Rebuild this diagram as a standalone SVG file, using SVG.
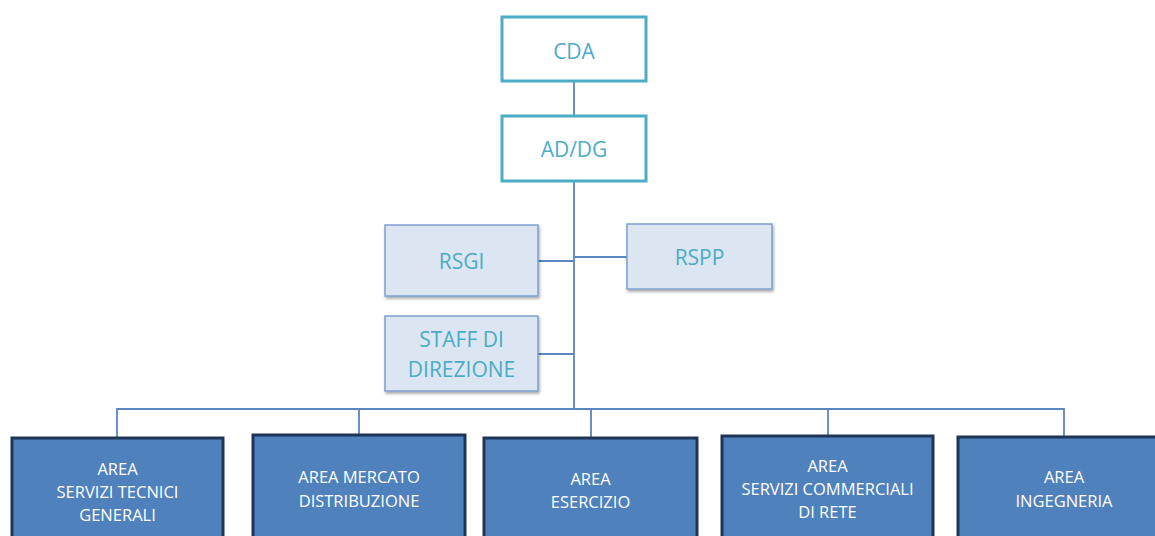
<svg xmlns="http://www.w3.org/2000/svg" width="1155" height="536" viewBox="0 0 1155 536">
<defs>
<style>
.top{fill:#fff;stroke:#4BACC6;stroke-width:3}
.staff{fill:#DCE6F2;stroke:#7F9FCF;stroke-width:1.5}
.area{fill:#4F81BD;stroke:#1F3556;stroke-width:3}
.tt{font-family:"Open Sans","Liberation Sans",sans-serif;fill:#4BACC6;text-anchor:middle;font-size:21px}
.at{font-family:"Open Sans","Liberation Sans",sans-serif;fill:#fff;text-anchor:middle;font-size:16.5px}
.conn{fill:none;stroke:#5B86C2;stroke-width:1.8}
</style>
<filter id="sh" x="-10%" y="-10%" width="130%" height="130%">
<feGaussianBlur in="SourceAlpha" stdDeviation="1.5"/>
<feOffset dx="1" dy="2" result="b"/>
<feComponentTransfer><feFuncA type="linear" slope="0.35"/></feComponentTransfer>
<feMerge><feMergeNode/><feMergeNode in="SourceGraphic"/></feMerge>
</filter>
</defs>
<g id="connectors">
<path class="conn" d="M574 81V116"/>
<path class="conn" d="M574 181V409"/>
<path class="conn" d="M538 261H574"/>
<path class="conn" d="M574 257H627"/>
<path class="conn" d="M538 354H574"/>
<path class="conn" d="M117 438V409H1064V437"/>
<path class="conn" d="M359 409V435"/>
<path class="conn" d="M591 409V438"/>
<path class="conn" d="M828 409V436"/>
</g>
<g id="cda">
<rect class="top" x="502" y="17" width="144" height="64"/>
<text class="tt" x="574" y="59">CDA</text>
</g>
<g id="addg">
<rect class="top" x="502" y="116" width="144" height="65"/>
<text class="tt" x="574" y="157">AD/DG</text>
</g>
<g id="rsgi">
<rect class="staff" x="385" y="225" width="153" height="71" filter="url(#sh)"/>
<text class="tt" x="461.5" y="269">RSGI</text>
</g>
<g id="rspp">
<rect class="staff" x="627" y="224" width="145" height="65" filter="url(#sh)"/>
<text class="tt" x="699.5" y="265">RSPP</text>
</g>
<g id="staff">
<rect class="staff" x="385" y="316" width="153" height="75" filter="url(#sh)"/>
<text class="tt" x="461.5" y="347">STAFF DI</text>
<text class="tt" x="461.5" y="377">DIREZIONE</text>
</g>
<g id="area-stg">
<rect class="area" x="12" y="438" width="211" height="110"/>
<text class="at" x="117.5" y="475">AREA</text>
<text class="at" x="117.5" y="498">SERVIZI TECNICI</text>
<text class="at" x="117.5" y="521">GENERALI</text>
</g>
<g id="area-md">
<rect class="area" x="253" y="435" width="212" height="110"/>
<text class="at" x="359" y="483">AREA MERCATO</text>
<text class="at" x="359" y="507">DISTRIBUZIONE</text>
</g>
<g id="area-es">
<rect class="area" x="484" y="438" width="213" height="110"/>
<text class="at" x="590.5" y="485">AREA</text>
<text class="at" x="590.5" y="508">ESERCIZIO</text>
</g>
<g id="area-scr">
<rect class="area" x="722" y="436" width="211" height="110"/>
<text class="at" x="827.5" y="472">AREA</text>
<text class="at" x="827.5" y="495">SERVIZI COMMERCIALI</text>
<text class="at" x="827.5" y="518">DI RETE</text>
</g>
<g id="area-ing">
<rect class="area" x="958" y="437" width="211" height="110"/>
<text class="at" x="1064" y="483">AREA</text>
<text class="at" x="1064" y="507">INGEGNERIA</text>
</g>
</svg>
